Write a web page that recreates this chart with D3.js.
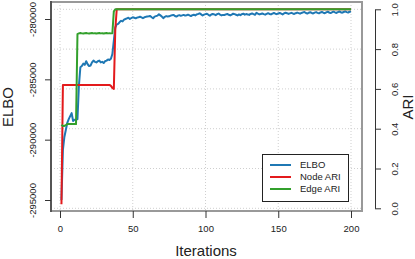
<!DOCTYPE html>
<html><head><meta charset="utf-8">
<script src="https://cdn.jsdelivr.net/npm/d3@7"></script>
<style>
body{margin:0;background:#fff;}
svg{display:block;font-family:"Liberation Sans",Arial,sans-serif;}
</style></head>
<body><svg id="c" width="415" height="259"></svg>
<script>
const elbo = [
-295000,-290850,-289780,-289200,-288600,-288300,-288050,-287800,-288450,-288350,-288350,-288300,-285500,-284000,-283900,
-283700,-283800,-283500,-283750,-283900,-283850,-283600,-283450,-283550,-283600,-283500,-283450,-283600,-283550,-283650,
-283500,-283450,-283350,-283400,-283300,-282900,-281800,-280700,-280450,-280400,-280250,-280150,-280200,-280050,-280000,
-279950,-279900,-280000,-279920,-279860,-279900,-279940,-279880,-279850,-279810,-279870,-279930,-279860,-279820,-279800,
-279780,-279750,-279850,-279940,-279800,-279760,-279720,-279600,-279700,-279800,-279930,-279820,-279760,-279790,-279780,
-279720,-279690,-279660,-279750,-279800,-279720,-279680,-279740,-279700,-279660,-279720,-279690,-279640,-279700,-279760,
-279680,-279650,-279700,-279620,-279580,-279530,-279620,-279710,-279640,-279600,-279560,-279650,-279720,-279630,-279580,
-279620,-279680,-279600,-279550,-279640,-279700,-279660,-279670,-279620,-279580,-279650,-279700,-279640,-279560,-279600,
-279650,-279700,-279620,-279680,-279600,-279560,-279640,-279590,-279620,-279660,-279580,-279540,-279600,-279650,-279490,
-279560,-279620,-279580,-279540,-279600,-279640,-279570,-279520,-279580,-279620,-279550,-279500,-279560,-279600,-279540,
-279500,-279560,-279620,-279540,-279480,-279520,-279580,-279530,-279490,-279540,-279580,-279520,-279470,-279510,-279560,
-279500,-279450,-279420,-279500,-279550,-279480,-279440,-279500,-279540,-279470,-279430,-279490,-279530,-279460,-279420,
-279480,-279520,-279450,-279400,-279460,-279510,-279440,-279390,-279450,-279500,-279430,-279380,-279440,-279480,-279420,-279370,-279430,-279460,-279400,-279380
];
const nodeARI = [
0.02,0.62,0.62,0.62,0.62,0.62,0.62,0.62,0.62,0.62,0.62,0.62,0.62,0.62,0.62,0.62,0.62,0.62,0.62,0.62,
0.62,0.62,0.62,0.62,0.62,0.62,0.62,0.62,0.62,0.62,0.62,0.62,0.62,0.62,0.615,0.605,0.60,0.90,1,1,
1,1,1,1,1,1,1,1,1,1,1,1,1,1,1,1,1,1,1,1,
1,1,1,1,1,1,1,1,1,1,1,1,1,1,1,1,1,1,1,1,
1,1,1,1,1,1,1,1,1,1,1,1,1,1,1,1,1,1,1,1,
1,1,1,1,1,1,1,1,1,1,1,1,1,1,1,1,1,1,1,1,
1,1,1,1,1,1,1,1,1,1,1,1,1,1,1,1,1,1,1,1,
1,1,1,1,1,1,1,1,1,1,1,1,1,1,1,1,1,1,1,1,
1,1,1,1,1,1,1,1,1,1,1,1,1,1,1,1,1,1,1,1,
1,1,1,1,1,1,1,1,1,1,1,1,1,1,1,1,1,1,1,1
];
const edgeARI = [
0.42,0.414,0.414,0.418,0.423,0.423,0.423,0.423,0.423,0.423,0.423,0.875,0.879,0.881,0.879,0.878,0.880,0.881,0.879,0.878,
0.880,0.881,0.879,0.880,0.878,0.880,0.881,0.879,0.880,0.878,0.880,0.881,0.879,0.880,0.879,0.880,0.99,1,1,1,
1,1,1,1,1,1,1,1,1,1,1,1,1,1,1,1,1,1,1,1,
1,1,1,1,1,1,1,1,1,1,1,1,1,1,1,1,1,1,1,1,
1,1,1,1,1,1,1,1,1,1,1,1,1,1,1,1,1,1,1,1,
1,1,1,1,1,1,1,1,1,1,1,1,1,1,1,1,1,1,1,1,
1,1,1,1,1,1,1,1,1,1,1,1,1,1,1,1,1,1,1,1,
1,1,1,1,1,1,1,1,1,1,1,1,1,1,1,1,1,1,1,1,
1,1,1,1,1,1,1,1,1,1,1,1,1,1,1,1,1,1,1,1,
1,1,1,1,1,1,1,1,1,1,1,1,1,1,1,1,1,1,1,1
];
const xTicks = [0, 50, 100, 150, 200];
const elboTicks = [-295000, -290000, -285000, -280000];
const ariTicks = [0, 0.2, 0.4, 0.6, 0.8, 1.0];
const seriesNames = ["ELBO", "Node ARI", "Edge ARI"];
const seriesColors = ["#1f78b4", "#e31a1c", "#33a02c"];

const svg = d3.select("#c");
const box = {l: 51, r: 362, t: 2, b: 211};
const x = d3.scaleLinear().domain([0, 200]).range([60, 351]);
const yL = d3.scaleLinear().domain([-295000, -280000]).range([200, 19]);
const yR = d3.scaleLinear().domain([0, 1]).range([208.3, 9.3]);

// grid
const g = svg.append("g").attr("stroke", "#cfcfcf").attr("stroke-width", 1).attr("stroke-dasharray", "1,2");
xTicks.forEach(t => g.append("line").attr("x1", x(t)).attr("x2", x(t)).attr("y1", box.t).attr("y2", box.b));
ariTicks.forEach(t => g.append("line").attr("x1", box.l).attr("x2", box.r).attr("y1", yR(t)).attr("y2", yR(t)));

svg.append("clipPath").attr("id", "clip").append("rect")
  .attr("x", box.l).attr("y", box.t).attr("width", box.r - box.l).attr("height", box.b - box.t);

const iters = elbo.map((d, i) => i + 1);
const lineL = d3.line().x((d, i) => x(iters[i])).y(d => yL(d));
const lineR = d3.line().x((d, i) => x(iters[i])).y(d => yR(d));
const lines = svg.append("g").attr("clip-path", "url(#clip)").attr("fill", "none")
  .attr("stroke-width", 2).attr("stroke-linejoin", "round");
lines.append("path").attr("d", lineL(elbo)).attr("stroke", seriesColors[0]);
lines.append("path").attr("d", lineR(nodeARI)).attr("stroke", seriesColors[1]);
lines.append("path").attr("d", lineR(edgeARI)).attr("stroke", seriesColors[2]);

// box
svg.append("rect").attr("x", box.l).attr("y", box.t).attr("width", box.r - box.l).attr("height", box.b - box.t)
  .attr("fill", "none").attr("stroke", "#999").attr("stroke-width", 2);
svg.append("line").attr("x1", box.l).attr("x2", box.l).attr("y1", box.t - 1).attr("y2", box.b + 1)
  .attr("stroke", "#555").attr("stroke-width", 2);

const txt = "#222";
// x axis
const ax = svg.append("g").attr("transform", `translate(0,${box.b})`)
  .call(d3.axisBottom(x).tickValues(xTicks).tickSize(7).tickSizeOuter(0).tickPadding(7));
ax.select(".domain").remove();
ax.selectAll(".tick line").attr("stroke", "#333");
ax.selectAll("text").attr("font-size", 9.5).attr("fill", txt).attr("font-family", null);

// left axis
const al = svg.append("g").attr("transform", `translate(${box.l},0)`)
  .call(d3.axisLeft(yL).tickValues(elboTicks).tickSize(6).tickSizeOuter(0).tickFormat(d => "-" + Math.abs(d)));
al.select(".domain").remove();
al.selectAll(".tick line").attr("stroke", "#333");
al.selectAll("text").attr("font-size", 9.5).attr("fill", txt).attr("font-family", null)
  .attr("text-anchor", "middle").attr("x", null).attr("dy", null)
  .attr("transform", "translate(-18,0) rotate(-90)").attr("dominant-baseline", "middle");

// right axis
const ar = svg.append("g").attr("transform", "translate(375,0)")
  .call(d3.axisRight(yR).tickValues(ariTicks).tickSize(6).tickSizeOuter(0).tickFormat(d3.format(".1f")));
ar.select(".domain").attr("stroke", "#333");
ar.selectAll(".tick line").attr("stroke", "#333");
ar.selectAll("text").attr("font-size", 9.5).attr("fill", txt).attr("font-family", null)
  .attr("text-anchor", "middle").attr("x", null).attr("dy", null)
  .attr("transform", "translate(20,0) rotate(-90)").attr("dominant-baseline", "middle");

// titles
svg.append("text").attr("x", 206).attr("y", 252).attr("text-anchor", "middle")
  .attr("dominant-baseline", "middle").attr("font-size", 15).attr("fill", txt).text("Iterations");
svg.append("text").attr("transform", "translate(9,107) rotate(-90)").attr("text-anchor", "middle")
  .attr("dominant-baseline", "middle").attr("font-size", 15).attr("fill", txt).text("ELBO");
svg.append("text").attr("transform", "translate(409,107) rotate(-90)").attr("text-anchor", "middle")
  .attr("dominant-baseline", "middle").attr("font-size", 15).attr("fill", txt).text("ARI");

// legend
const lg = svg.append("g");
lg.append("rect").attr("x", 262.5).attr("y", 154.5).attr("width", 86).attr("height", 47)
  .attr("fill", "#fff").attr("stroke", "#222").attr("stroke-width", 1);
seriesNames.forEach((n, i) => {
  const yy = 165 + i * 12;
  lg.append("line").attr("x1", 270).attr("x2", 291).attr("y1", yy).attr("y2", yy)
    .attr("stroke", seriesColors[i]).attr("stroke-width", 2);
  lg.append("text").attr("x", 300).attr("y", yy).attr("dominant-baseline", "middle")
    .attr("font-size", 9.5).attr("fill", txt).text(n);
});
</script></body></html>
